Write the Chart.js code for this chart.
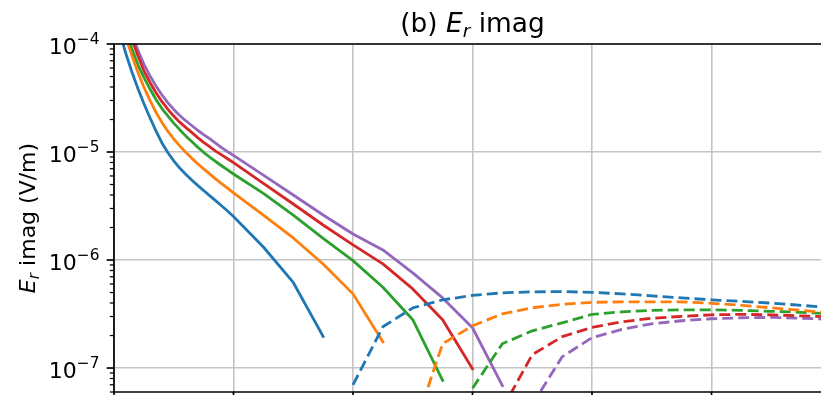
<!DOCTYPE html>
<html lang="en">
<head>
	<meta charset="UTF-8" />
	<title>(b) Er imag</title>
	<script src="https://cdn.jsdelivr.net/npm/chart.js"></script>
	<style>
		html, body {
			margin: 0;
			padding: 0;
			background: #ffffff;
			overflow: hidden;
		}

		#wrap {
			position: relative;
			width: 840px;
			height: 395px;
		}
	</style>
</head>
<body>
	<div id="wrap">
		<canvas id="erImagChart"></canvas>
	</div>

	<script>
		// x positions (axis units, gridlines at whole numbers; tick labels are cropped off in the source)
		const distance = [
			0.05, 0.1, 0.15, 0.2, 0.25, 0.3, 0.35, 0.4, 0.45, 0.5,
			0.55, 0.6, 0.65, 0.7, 0.75, 0.8, 0.85, 0.9, 0.95, 1.0,
			1.25, 1.5, 1.75, 2.0, 2.25, 2.5, 2.75, 3.0, 3.25, 3.5,
			3.75, 4.0, 4.25, 4.5, 4.75, 5.0, 5.25, 5.5, 5.75, 6.0,
		];

		// E_r imag (V/m); negative values are drawn dashed as |value|
		const erImagBlue = [
			1.27e-4, 8.07e-5, 5.5e-5, 3.87e-5, 2.81e-5, 2.09e-5, 1.58e-5, 1.22e-5, 9.89e-6, 8.27e-6,
			7.1e-6, 6.22e-6, 5.51e-6, 4.91e-6, 4.4e-6, 3.95e-6, 3.55e-6, 3.18e-6, 2.84e-6, 2.53e-6,
			1.32e-6, 6.2e-7, 1.96e-7,
			-7.0e-8, -2.41e-7, -3.6e-7, -4.28e-7, -4.7e-7, -4.97e-7, -5.07e-7, -5.1e-7, -5.02e-7,
			-4.86e-7, -4.66e-7, -4.46e-7, -4.28e-7, -4.14e-7, -3.99e-7, -3.81e-7, -3.6e-7,
		];
		const erImagOrange = [
			1.77e-4, 1.14e-4, 7.8e-5, 5.48e-5, 3.99e-5, 3.02e-5, 2.35e-5, 1.89e-5, 1.56e-5, 1.32e-5,
			1.14e-5, 9.96e-6, 8.78e-6, 7.79e-6, 6.98e-6, 6.27e-6, 5.65e-6, 5.1e-6, 4.63e-6, 4.19e-6,
			2.61e-6, 1.6e-6, 9.2e-7, 4.86e-7, 1.75e-7,
			-2.52e-8, -1.68e-7, -2.46e-7, -3.18e-7, -3.61e-7, -3.89e-7, -4.06e-7,
			-4.1e-7, -4.1e-7, -4.1e-7, -3.97e-7, -3.81e-7, -3.61e-7, -3.42e-7, -3.24e-7,
		];
		const erImagGreen = [
			2.18e-4, 1.34e-4, 8.99e-5, 6.42e-5, 4.92e-5, 3.85e-5, 3.08e-5, 2.54e-5, 2.16e-5, 1.85e-5,
			1.61e-5, 1.41e-5, 1.25e-5, 1.11e-5, 9.94e-6, 8.99e-6, 8.17e-6, 7.46e-6, 6.83e-6, 6.26e-6,
			4.14e-6, 2.61e-6, 1.59e-6, 9.87e-7, 5.6e-7, 2.8e-7, 7.68e-8,
			-6.5e-8, -1.68e-7, -2.21e-7, -2.62e-7, -3.14e-7,
			-3.31e-7, -3.42e-7, -3.46e-7, -3.46e-7, -3.42e-7, -3.35e-7, -3.28e-7, -3.18e-7,
		];
		const erImagRed = [
			3.2e-4, 1.75e-4, 1.11e-4, 7.78e-5, 5.65e-5, 4.43e-5, 3.56e-5, 2.94e-5, 2.49e-5, 2.15e-5,
			1.89e-5, 1.69e-5, 1.52e-5, 1.36e-5, 1.23e-5, 1.12e-5, 1.02e-5, 9.4e-6, 8.66e-6, 7.98e-6,
			5.13e-6, 3.3e-6, 2.11e-6, 1.38e-6, 9.2e-7, 5.4e-7, 2.8e-7, 9.85e-8,
			-4.2e-8, -1.33e-7, -1.95e-7, -2.38e-7,
			-2.68e-7, -2.89e-7, -3.01e-7, -3.11e-7, -3.14e-7, -3.11e-7, -3.04e-7, -2.98e-7,
		];
		const erImagPurple = [
			3.67e-4, 1.98e-4, 1.26e-4, 8.73e-5, 6.51e-5, 5.09e-5, 4.1e-5, 3.39e-5, 2.87e-5, 2.48e-5,
			2.18e-5, 1.95e-5, 1.76e-5, 1.59e-5, 1.45e-5, 1.33e-5, 1.21e-5, 1.1e-5, 1.01e-5, 9.3e-6,
			6.12e-6, 4.0e-6, 2.61e-6, 1.74e-6, 1.24e-6, 7.6e-7, 4.46e-7, 2.36e-7, 6.86e-8,
			-4.58e-8, -1.27e-7, -1.91e-7,
			-2.28e-7, -2.57e-7, -2.74e-7, -2.86e-7, -2.92e-7, -2.94e-7, -2.89e-7, -2.82e-7,
		];

		const seriesValues = [erImagBlue, erImagOrange, erImagGreen, erImagRed, erImagPurple];
		const seriesColors = ['#1f77b4', '#ff7f0e', '#2ca02c', '#d62728', '#9467bd'];

		const xTicks = [0, 1, 2, 3, 4, 5, 6];
		const yMajorTicks = [1e-7, 1e-6, 1e-5, 1e-4];
		const yTickExponents = ['\u22127', '\u22126', '\u22125', '\u22124'];

		const Y_MIN = 6e-8;
		const Y_MAX = 1e-4;
		const FONT = '"DejaVu Sans", "Liberation Sans", sans-serif';
		const GRID_COLOR = '#c4c4c4';

		const isDecade = (value) => Math.abs(Math.log10(value) - Math.round(Math.log10(value))) < 1e-9;

		const yAllTicks = [];
		for (let exp = -8; exp <= -4; exp++) {
			for (let m = 1; m <= 9; m++) {
				const v = Number((m * Math.pow(10, exp)).toPrecision(6));
				if (v >= Y_MIN * 0.999 && v <= Y_MAX * 1.001) {
					yAllTicks.push(v);
				}
			}
		}

		const splitSign = (values) => {
			const positive = [];
			const negative = [];
			values.forEach((v, i) => {
				if (v > 0) positive.push({ x: distance[i], y: v });
				else if (v < 0) negative.push({ x: distance[i], y: -v });
			});
			return { positive, negative };
		};

		const datasets = [];
		seriesValues.forEach((values, i) => {
			const { positive, negative } = splitSign(values);
			datasets.push({
				data: positive,
				borderColor: seriesColors[i],
				borderWidth: 2.8,
				borderCapStyle: 'square',
				borderJoinStyle: 'round',
				pointRadius: 0,
				tension: 0,
				clip: 0,
			});
			datasets.push({
				data: negative,
				borderColor: seriesColors[i],
				borderWidth: 2.8,
				borderDash: [11, 5],
				borderCapStyle: 'butt',
				borderJoinStyle: 'round',
				pointRadius: 0,
				tension: 0,
				clip: 0,
			});
		});

		const drawRuns = (ctx, runs, x, y, align) => {
			let total = 0;
			runs.forEach((r) => {
				ctx.font = r.font;
				r.width = ctx.measureText(r.text).width;
				total += r.width;
			});
			let cx = align === 'right' ? x - total : align === 'center' ? x - total / 2 : x;
			runs.forEach((r) => {
				ctx.font = r.font;
				ctx.fillText(r.text, cx, y + (r.dy || 0));
				cx += r.width;
			});
		};

		const axesDecor = {
			id: 'axesDecor',
			afterDraw(chart) {
				const { ctx, chartArea: a } = chart;
				const xs = chart.scales.x;
				const ys = chart.scales.y;

				ctx.save();
				ctx.strokeStyle = '#000000';
				ctx.lineCap = 'butt';

				// spines
				ctx.lineWidth = 1.7;
				ctx.beginPath();
				ctx.moveTo(a.left, a.top);
				ctx.lineTo(a.right, a.top);
				ctx.lineTo(a.right, a.bottom);
				ctx.lineTo(a.left, a.bottom);
				ctx.closePath();
				ctx.stroke();

				// y tick marks
				yAllTicks.forEach((v) => {
					const py = ys.getPixelForValue(v);
					const major = isDecade(v);
					ctx.lineWidth = major ? 1.7 : 1.25;
					ctx.beginPath();
					ctx.moveTo(a.left, py);
					ctx.lineTo(a.left - (major ? 7.3 : 4.2), py);
					ctx.stroke();
				});

				// x tick marks
				ctx.lineWidth = 1.7;
				xTicks.forEach((v) => {
					const px = xs.getPixelForValue(v);
					ctx.beginPath();
					ctx.moveTo(px, a.bottom);
					ctx.lineTo(px, a.bottom + 7.3);
					ctx.stroke();
				});

				// y tick labels
				ctx.fillStyle = '#000000';
				ctx.textAlign = 'left';
				ctx.textBaseline = 'alphabetic';
				yMajorTicks.forEach((v, i) => {
					const py = ys.getPixelForValue(v);
					drawRuns(ctx, [
						{ text: '10', font: `22px ${FONT}`, dy: 9.6 },
						{ text: yTickExponents[i], font: `15.4px ${FONT}`, dy: 0 },
					], a.left - 14.5, py, 'right');
				});

				// title
				drawRuns(ctx, [
					{ text: '(b) ', font: `26.4px ${FONT}` },
					{ text: 'E', font: `italic 26.4px ${FONT}` },
					{ text: 'r', font: `italic 18.5px ${FONT}`, dy: 5 },
					{ text: ' imag', font: `26.4px ${FONT}` },
				], (a.left + a.right) / 2, 32, 'center');

				// y axis label
				ctx.translate(34.5, (a.top + a.bottom) / 2);
				ctx.rotate(-Math.PI / 2);
				drawRuns(ctx, [
					{ text: 'E', font: `italic 22px ${FONT}` },
					{ text: 'r', font: `italic 15.4px ${FONT}`, dy: 4 },
					{ text: ' imag (V/m)', font: `22px ${FONT}` },
				], 0, 0, 'center');

				ctx.restore();
			},
		};

		new Chart(document.getElementById('erImagChart'), {
			type: 'line',
			data: { datasets },
			options: {
				responsive: true,
				maintainAspectRatio: false,
				animation: false,
				devicePixelRatio: 1,
				layout: {
					padding: { left: 0, top: 44, right: 9, bottom: 3 },
				},
				plugins: {
					legend: { display: false },
					tooltip: { enabled: false },
					title: { display: false },
				},
				scales: {
					x: {
						type: 'linear',
						min: 0,
						max: 6,
						afterBuildTicks: (scale) => {
							scale.ticks = xTicks.map((value) => ({ value }));
						},
						ticks: { display: false },
						border: { display: false },
						grid: {
							color: GRID_COLOR,
							lineWidth: 1.6,
							drawTicks: false,
						},
					},
					y: {
						type: 'logarithmic',
						min: Y_MIN,
						max: Y_MAX,
						afterBuildTicks: (scale) => {
							scale.ticks = yAllTicks.map((value) => ({ value }));
						},
						afterFit: (scale) => {
							scale.width = 114;
						},
						ticks: { display: false },
						border: { display: false },
						grid: {
							color: (ctx) => (ctx.tick && isDecade(ctx.tick.value) ? GRID_COLOR : 'rgba(0,0,0,0)'),
							lineWidth: 1.6,
							drawTicks: false,
						},
					},
				},
			},
			plugins: [axesDecor],
		});
	</script>
</body>
</html>
